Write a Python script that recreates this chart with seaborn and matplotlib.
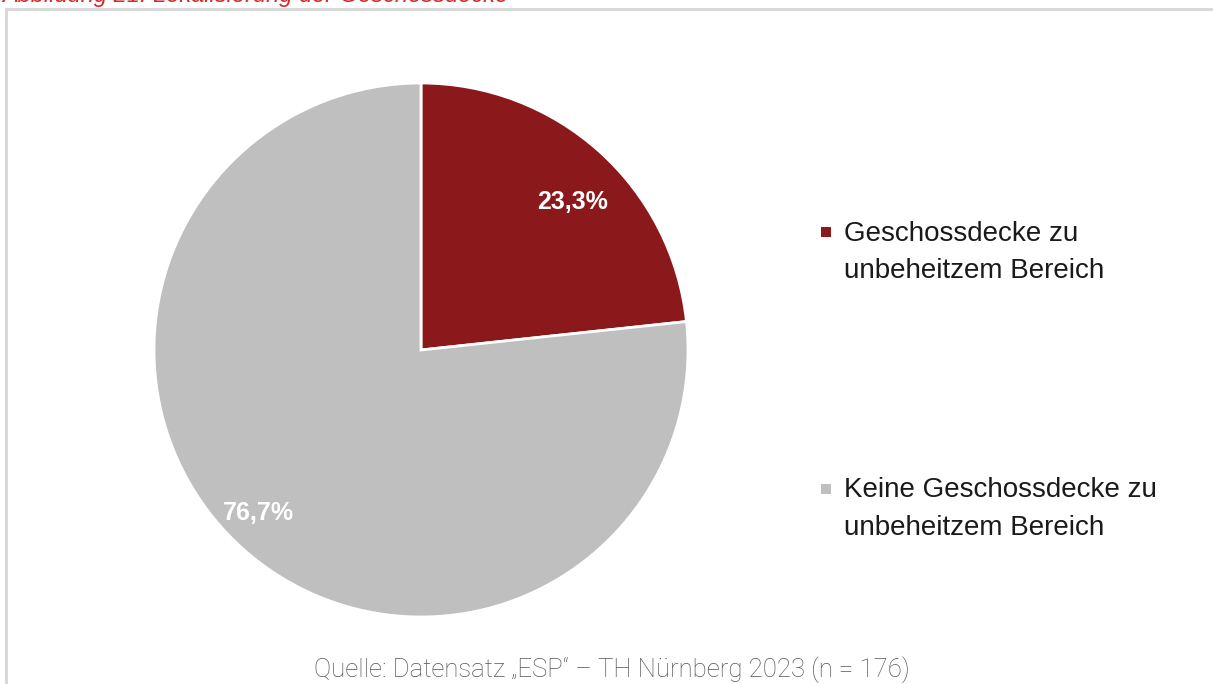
import seaborn as sns
import matplotlib.pyplot as plt
from matplotlib.patches import Rectangle
from matplotlib.legend_handler import HandlerPatch

# data
categories = ["Geschossdecke zu\nunbeheitzem Bereich", "Keine Geschossdecke zu\nunbeheitzem Bereich"]
shares = [23.3, 76.7]
colors = ["#8B181B", "#BFBFBF"]
title = "Abbildung 21: Lokalisierung der Geschossdecke"
source = "Quelle: Datensatz \u201eESP\u201c \u2013 TH N\u00fcrnberg 2023 (n = 176)"

sns.set_theme(style="white")
plt.rcParams['font.family'] = ['Liberation Sans', 'DejaVu Sans']

W, H = 1213, 684
fig = plt.figure(figsize=(W / 100, H / 100), dpi=100)

# grey frame around the chart
fig.patches.append(Rectangle((6 / W, -0.05), 1.1, 1 - 9 / H + 0.05, transform=fig.transFigure,
                             fill=False, edgecolor="#D6D6D6", linewidth=2))

# pie centre (421, 350) px, radius 267 px
cx, cy, r = 421, 350, 267
ax = fig.add_axes([(cx - r) / W, (H - cy - r) / H, 2 * r / W, 2 * r / H])

wedges, texts, autotexts = ax.pie(
    shares, colors=colors, startangle=90, counterclock=False,
    autopct=lambda p: f"{p:.1f}%".replace(".", ","), pctdistance=0.8,
    wedgeprops=dict(edgecolor="white", linewidth=2),
    textprops=dict(color="white", fontsize=18, fontweight="bold"))
ax.set_xlim(-1, 1)
ax.set_ylim(-1, 1)

# nudge the percentage labels a little, like the original
for t, (dx, dy) in zip(autotexts, [(0.034, -0.04), (-0.075, -0.015)]):
    x, y = t.get_position()
    t.set_position((x + dx, y + dy))


# square marker aligned with the first line of the label
def top_square(legend, orig_handle, xdescent, ydescent, width, height, fontsize):
    s = 0.36 * fontsize
    yc = -ydescent + height - 0.12 * fontsize
    return Rectangle((-xdescent, yc - s / 2), s, s)


leg = ax.legend(wedges, categories, loc="upper left", bbox_to_anchor=(796 / W, 1 - 196 / H),
                bbox_transform=fig.transFigure, frameon=False, fontsize=20,
                labelspacing=6.95, handlelength=0.36, handleheight=2.4, handletextpad=0.47,
                handler_map={type(wedges[0]): HandlerPatch(patch_func=top_square)})
for h in leg.legend_handles:
    h.set_linewidth(0)
for t in leg.get_texts():
    t.set_linespacing(1.57)
    t.set_color("#1a1a1a")

fig.text(2 / W, 1 - 2 / H, title, color="#D42A2A", style="italic", fontsize=17, va="baseline")
fig.text(612 / W, 1 - 670 / H, source, color="#555555", fontsize=18.5, ha="center", va="center",
         family=["Roboto", "DejaVu Sans"], fontweight="light")

plt.savefig("out.png", dpi=100)
